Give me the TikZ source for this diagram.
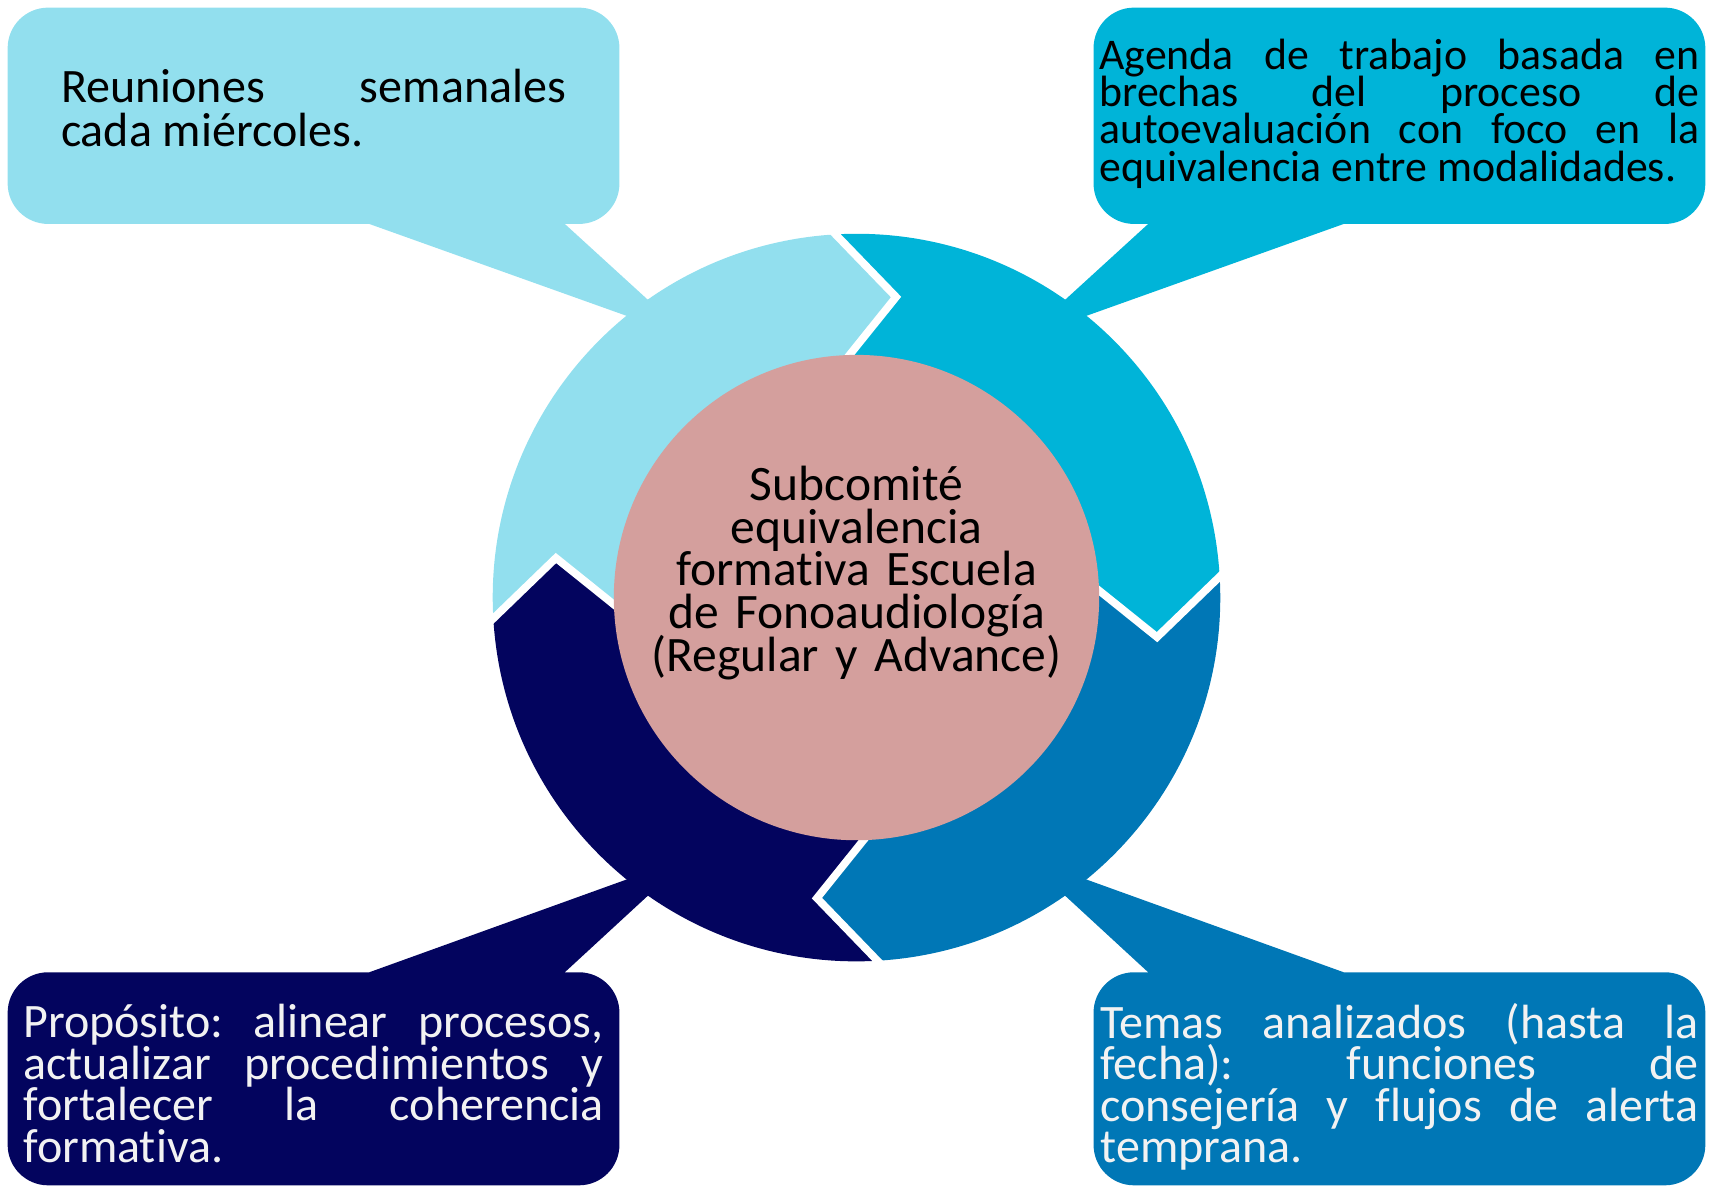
\documentclass[tikz,border=0pt]{standalone}
\usepackage{fontspec}
\setmainfont{Carlito}[Ligatures=NoCommon]
\definecolor{celeste}{HTML}{92DFEE}
\definecolor{turquesa}{HTML}{00B4D8}
\definecolor{azul}{HTML}{0077B6}
\definecolor{marino}{HTML}{03045E}
\definecolor{rosado}{HTML}{D49F9D}
\definecolor{blanco}{HTML}{F2F2F2}
\tolerance=10000 \hyphenpenalty=10000 \exhyphenpenalty=10000
\lineskiplimit=-100pt \normallineskiplimit=-100pt
\frenchspacing
\tikzset{globo/.style={rounded corners=0.37cm},
  texto/.style={inner sep=0pt,align=justify,execute at begin node={\lineskiplimit=-100pt}}}
\begin{document}
\begin{tikzpicture}[x=0.01cm,y=0.01cm]
  \useasboundingbox (0,0) rectangle (1568,1085);
  \fill[celeste](338,890)--(338,880)--(632,775)--(517,880)--(517,890)--cycle;
  \fill[turquesa](1230,890)--(1230,880)--(936,775)--(1051,880)--(1051,890)--cycle;
  \fill[marino](338,185)--(338,195)--(632,301)--(517,195)--(517,185)--cycle;
  \fill[azul](1230,185)--(1230,195)--(936,301)--(1051,195)--(1051,185)--cycle;
  \fill[globo,celeste](7,880) rectangle (567,1078);
  \fill[globo,turquesa](1001,880) rectangle (1561,1078);
  \fill[globo,marino](7,0) rectangle (567,195);
  \fill[globo,azul](1001,0) rectangle (1561,195);
  \node[texto,text width=4.62cm,font=\fontsize{12.5}{11.4}\selectfont] (reuniones) at (287,986)
    {Reuniones semanales\linebreak cada miércoles.};
  \node[texto,text width=5.49cm,font=\fontsize{11.4}{9.7}\selectfont] (agenda) at (1281,981)
    {Agenda de trabajo basada en\linebreak brechas del proceso de\linebreak autoevaluación con foco en la\linebreak equivalencia entre modalidades.};
  \node[texto,text=blanco,text width=5.31cm,font=\fontsize{12.5}{10.8}\selectfont] (proposito) at (287,93)
    {Propósito: alinear procesos,\linebreak actualizar procedimientos y\linebreak fortalecer la coherencia\linebreak formativa.};
  \node[texto,text=blanco,text width=5.47cm,font=\fontsize{12.5}{10.8}\selectfont] (temas) at (1281,90)
    {Temas analizados (hasta la\linebreak fecha): funciones de\linebreak consejería y flujos de alerta\linebreak temprana.};
  \begin{scope}[shift={(784,538)}]
    \foreach \T/\B/\col in {183.3/93.3/celeste,93.3/3.3/turquesa,3.3/-86.7/azul,-86.7/-176.7/marino}
      \fill[\col](\T:333) arc[start angle=\T,end angle=\B,radius=333]--({\B-10.8}:277.5)--(\B:215)
        arc[start angle=\B,end angle=\T,radius=215]--({\T-10.8}:277.5)--cycle;
    \foreach \B in {93.3,3.3,-86.7,-176.7}
      \draw[white,line width=2pt,line cap=rect](\B:333)--({\B-10.8}:277.5)--(\B:215);
  \end{scope}
  \node[circle,fill=rosado,minimum size=4.44cm,inner sep=0pt] (nucleo) at (784,538) {};
  \node[align=center,text width=4.2cm,font=\fontsize{12.9}{11.1}\selectfont,
    execute at begin node={\lineskiplimit=-100pt}] (subcomite) at (784,560.5)
    {Subcomité\\ equivalencia\\ formativa Escuela\\ de Fonoaudiología\\ (Regular y Advance)};
\end{tikzpicture}
\end{document}
